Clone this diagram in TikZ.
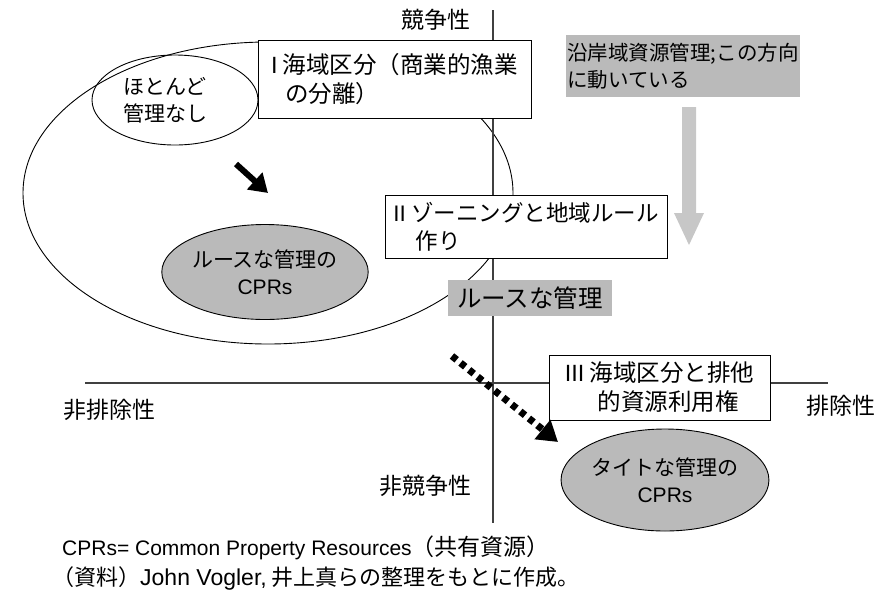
\documentclass[tikz,border=0pt]{standalone}
\usepackage{fontspec}
\setmainfont{Noto Sans CJK JP}
\newfontfamily\latfont{Liberation Sans}
\usetikzlibrary{positioning,shapes.geometric,arrows.meta}
\tikzset{
  txt/.style={font=\fontsize{23}{28}\selectfont, inner sep=0pt},
  box/.style={txt, draw, fill=white, align=left, line width=0.9pt, font=\fontsize{23.5}{29}\selectfont},
  shadebox/.style={txt, fill=black!27, align=left},
  oval/.style={ellipse, draw, line width=0.9pt, txt, font=\fontsize{21}{27}\selectfont, align=center},
  axis/.style={draw=black!75, line width=1.4pt},
  shade/.style={fill=black!27},
}

\begin{document}
\begin{tikzpicture}[x=1pt,y=-1pt]
    \useasboundingbox (0,0) rectangle (876,590);

    % ellipses
    \node (outer) [oval, minimum width=490, minimum height=302] at (268,193) {};
    \node (none) [oval, minimum width=166, minimum height=90] at (175,100) {};
    \node (nonetext) [txt, font=\fontsize{21}{27}\selectfont, align=center] at (165,100) {ほとんど\\管理なし};
    \node (loose) [oval, shade, minimum width=175, minimum height=95] at (265,272) {ルースな管理の\\{\latfont CPRs}};
    \node (tight) [oval, shade, minimum width=200, minimum height=102] at (665,480) {タイトな管理の\\{\latfont CPRs}};

    % axes
    \coordinate (top) at (493,10);
    \coordinate (bottom) at (493,523);
    \coordinate (left) at (85,383);
    \coordinate (right) at (828,383);
    \draw [axis] (top) -- (bottom);
    \draw [axis] (left) -- (right);

    \node (rival) [txt] at (436,20) {競争性};
    \node (nonrival) [txt] at (425,486) {非競争性};
    \node (nonexcl) [txt] at (109,410) {非排除性};
    \node (excl) [txt] at (841,406) {排除性};

    % boxes
    \node (boxI) [box, minimum width=273, minimum height=78] at (394.5,79)
        {{\latfont I} 海域区分（商業的漁業\\\hspace{0.6em}の分離）};
    \node (boxII) [box, font=\fontsize{22.5}{28}\selectfont, minimum width=282, minimum height=63] at (526,226.5)
        {{\latfont II} ゾーニングと地域ルール\\\hspace{1em}作り};
    \node (boxIII) [box, minimum width=221, minimum height=65] at (659.5,387.5)
        {{\latfont III} 海域区分と排他\\\hspace{1.4em}的資源利用権};
    \node (coast) [shadebox, font=\fontsize{20.5}{27}\selectfont, minimum width=234, minimum height=62] at (683,66)
        {沿岸域資源管理;この方向\\に動いている};
    \node (loosemgmt) [shadebox, font=\fontsize{24.5}{28}\selectfont, minimum width=164, minimum height=36] at (530,298) {ルースな管理};

    % arrows
    \coordinate (a1) at (236,164);
    \coordinate (a2) at (268,193);
    \draw [line width=6pt, -{Triangle[length=18pt,width=22pt]}] (a1) -- (a2);

    \coordinate (d1) at (452,356);
    \coordinate (d2) at (558,442);
    \draw [line width=7pt, dash pattern=on 6pt off 5pt, -{Triangle[length=20pt,width=24pt]}] (d1) -- (d2);

    \fill [black!22] (682,107) -- (696,107) -- (696,213) -- (704,213) -- (689,245)
        -- (674,213) -- (682,213) -- cycle;

    % notes
    \node (note1) [txt, anchor=west] at (62,548)
        {{\latfont\fontsize{21}{28}\selectfont CPRs= Common Property Resources}（共有資源）};
    \node (note2) [txt, font=\fontsize{22}{28}\selectfont, anchor=west] at (52,578)
        {（資料）{\latfont\fontsize{23}{28}\selectfont John Vogler,} 井上真らの整理をもとに作成。};
\end{tikzpicture}
\end{document}
